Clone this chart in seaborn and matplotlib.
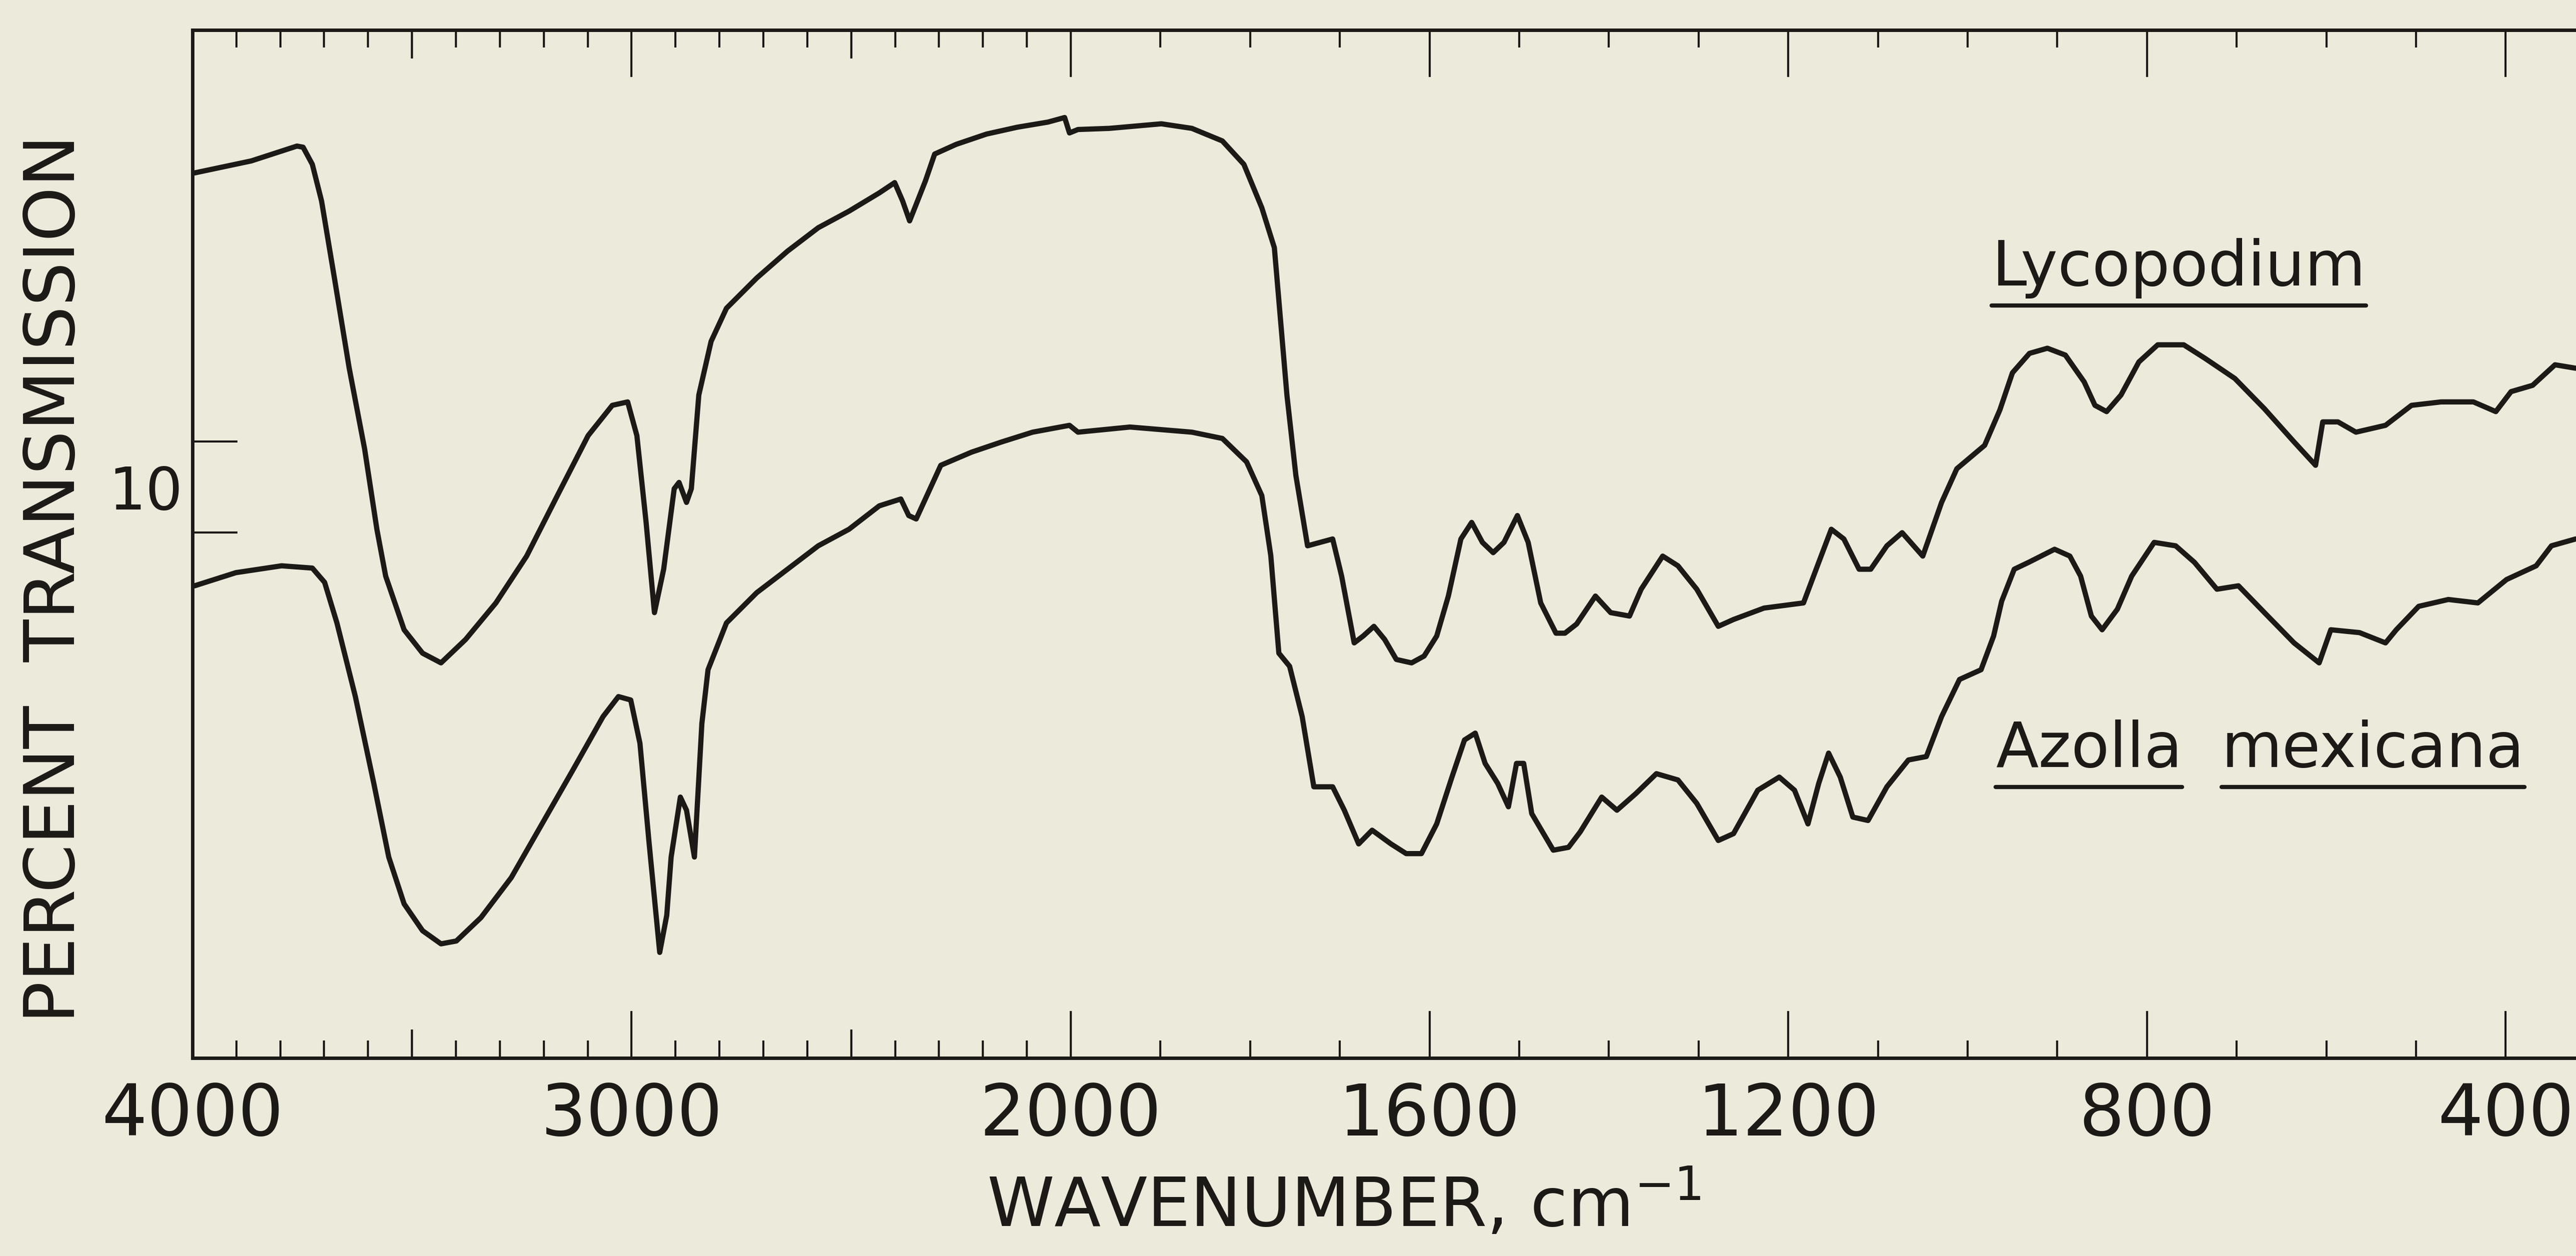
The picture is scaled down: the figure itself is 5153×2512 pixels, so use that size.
import numpy as np
import matplotlib
matplotlib.use("Agg")
import matplotlib.pyplot as plt
from matplotlib.lines import Line2D
import seaborn as sns

# wavenumber (cm-1) and percent transmission
lyco_wn = [3995, 3866, 3762, 3748, 3727, 3706, 3678, 3643, 3608, 3580, 3560, 3518, 3476,
           3434, 3378, 3309, 3239, 3169, 3099, 3044, 3009, 2988, 2967, 2948, 2927, 2903,
           2892, 2875, 2864, 2847, 2819, 2784, 2715, 2645, 2575, 2505, 2436, 2401, 2383,
           2367, 2352, 2331, 2310, 2261, 2192, 2122, 2052, 2014, 2003, 1992, 1957, 1899,
           1865, 1831, 1807, 1787, 1773, 1766, 1759, 1749, 1736, 1722, 1708, 1698, 1684,
           1674, 1662, 1650, 1637, 1620, 1606, 1592, 1579, 1565, 1553, 1541, 1529, 1517,
           1502, 1490, 1476, 1459, 1449, 1436, 1415, 1398, 1377, 1364, 1340, 1323, 1302,
           1278, 1261, 1227, 1183, 1166, 1152, 1138, 1121, 1108, 1090, 1073, 1050, 1029,
           1012, 981, 964, 950, 931, 911, 891, 870, 858, 845, 829, 809, 788, 759, 735, 702,
           669, 636, 612, 604, 587, 567, 534, 505, 472, 436, 411, 394, 370, 345, 322]
lyco_t = [15.50, 15.71, 15.97, 15.95, 15.65, 15.01, 13.72, 12.08, 10.67, 9.26, 8.44, 7.50, 7.09,
          6.92, 7.33, 7.97, 8.79, 9.85, 10.90, 11.43, 11.49, 10.90, 9.38, 7.80, 8.56, 9.97,
          10.08, 9.73, 9.97, 11.61, 12.55, 13.13, 13.66, 14.13, 14.54, 14.83, 15.15, 15.33, 15.01,
          14.66, 14.95, 15.36, 15.83, 16.00, 16.18, 16.30, 16.39, 16.47, 16.20, 16.26, 16.28, 16.36,
          16.28, 16.06, 15.65, 14.89, 14.19, 12.90, 11.61, 10.20, 8.97, 9.03, 9.09, 8.44, 7.27,
          7.39, 7.56, 7.33, 6.98, 6.92, 7.04, 7.39, 8.09, 9.09, 9.38, 9.03, 8.85, 9.03,
          9.50, 9.03, 7.97, 7.44, 7.44, 7.60, 8.09, 7.80, 7.74, 8.21, 8.79, 8.62, 8.21,
          7.56, 7.68, 7.88, 7.97, 8.68, 9.26, 9.09, 8.56, 8.56, 8.97, 9.20, 8.79, 9.73,
          10.32, 10.73, 11.35, 12.00, 12.34, 12.43, 12.31, 11.84, 11.43, 11.32, 11.61, 12.19, 12.49, 12.49, 12.25, 11.90,
          11.37, 10.79, 10.38, 11.14, 11.14, 10.96, 11.08, 11.43, 11.49, 11.49, 11.32, 11.67, 11.78, 12.14, 12.08]

azolla_wn = [3995, 3901, 3797, 3727, 3699, 3671, 3629, 3587, 3553, 3518, 3476, 3434, 3399,
             3343, 3274, 3204, 3134, 3065, 3030, 3002, 2981, 2960, 2936, 2920, 2910, 2889,
             2875, 2857, 2840, 2826, 2784, 2715, 2645, 2575, 2505, 2436, 2387, 2369, 2352,
             2324, 2296, 2226, 2157, 2087, 2003, 1992, 1934, 1865, 1831, 1804, 1787, 1777,
             1768, 1756, 1742, 1729, 1708, 1695, 1679, 1664, 1643, 1626, 1609, 1592, 1575,
             1561, 1549, 1538, 1524, 1512, 1503, 1495, 1486, 1462, 1445, 1432, 1408, 1391,
             1370, 1347, 1323, 1302, 1278, 1261, 1234, 1210, 1193, 1178, 1166, 1155, 1142,
             1128, 1111, 1090, 1066, 1046, 1029, 1009, 985, 971, 962, 948, 932, 903, 886,
             874, 862, 850, 833, 817, 792, 768, 747, 722, 698, 669, 636, 608, 595, 563,
             534, 522, 497, 464, 431, 399, 366, 349, 322]
azolla_t = [8.27, 8.50, 8.62, 8.58, 8.33, 7.62, 6.33, 4.81, 3.52, 2.70, 2.23, 2.00, 2.05,
            2.46, 3.16, 4.10, 5.04, 5.98, 6.33, 6.27, 5.51, 3.75, 1.85, 2.50, 3.52, 4.57,
            4.34, 3.52, 5.86, 6.80, 7.62, 8.15, 8.56, 8.97, 9.26, 9.67, 9.79, 9.50, 9.44,
            9.91, 10.38, 10.61, 10.79, 10.96, 11.08, 10.96, 11.05, 10.96, 10.85, 10.44, 9.85, 8.80,
            7.09, 6.86, 5.98, 4.75, 4.75, 4.34, 3.75, 3.99, 3.75, 3.58, 3.58, 4.10, 4.92,
            5.57, 5.69, 5.16, 4.81, 4.40, 5.16, 5.16, 4.28, 3.64, 3.69, 3.96, 4.57, 4.34,
            4.63, 4.98, 4.87, 4.46, 3.81, 3.93, 4.69, 4.92, 4.69, 4.10, 4.81, 5.34, 4.92,
            4.22, 4.16, 4.75, 5.22, 5.28, 5.98, 6.63, 6.80, 7.39, 8.00, 8.56, 8.68, 8.91, 8.79,
            8.44, 7.74, 7.50, 7.86, 8.44, 9.03, 8.97, 8.68, 8.21, 8.27, 7.80, 7.27, 6.92, 7.50, 7.45,
            7.27, 7.50, 7.91, 8.03, 7.97, 8.38, 8.62, 8.97, 9.09]

major_ticks = [4000, 3000, 2000, 1600, 1200, 800, 400]
major_labels = ["4000", "3000", "2000", "1600", "1200", "800", "400"]
medium_ticks = [3500, 2500]
minor_ticks = [w for w in range(3900, 2000, -100) if w != 3000] + \
              [w for w in range(1900, 400, -100) if w not in (1600, 1200, 800)]

ink = "#1b1a17"
paper = "#eceadb"

sns.set_style("ticks")
plt.rcParams["font.family"] = ["DejaVu Sans"]

# the chart paper doubles its scale below 2000 cm-1
EXPAND = 2.042


def forward(w):
    w = np.asarray(w, dtype=float)
    return np.where(w >= 2000, w, 2000 - (2000 - w) * EXPAND)


def inverse(u):
    u = np.asarray(u, dtype=float)
    return np.where(u >= 2000, u, 2000 - (2000 - u) / EXPAND)


fig, ax = plt.subplots(figsize=(51.53, 25.12), dpi=100)
fig.patch.set_facecolor(paper)
ax.set_facecolor(paper)
fig.subplots_adjust(left=0.0747, right=1.0, top=0.976, bottom=0.1576)

sns.lineplot(x=lyco_wn, y=lyco_t, ax=ax, color=ink, linewidth=7.5, sort=False, estimator=None)
sns.lineplot(x=azolla_wn, y=azolla_t, ax=ax, color=ink, linewidth=7.5, sort=False, estimator=None)

ax.set_xscale("function", functions=(forward, inverse))
ax.set_xlim(4000, 321.6)
ax.set_ylim(0, 18)

for side in ["left", "top", "bottom"]:
    ax.spines[side].set_linewidth(5)
    ax.spines[side].set_color(ink)
ax.spines["right"].set_visible(False)

ax.set_xticks(major_ticks, major_labels)
ax.set_xticks(medium_ticks + minor_ticks, minor=True)
ax.tick_params(axis="x", which="major", direction="in", length=68, width=3, top=True, bottom=True,
               labelsize=103, pad=33, colors=ink)
ax.tick_params(axis="x", which="minor", direction="in", length=25, width=3, top=True, bottom=True,
               colors=ink)

ax.set_yticks([9.2, 10.8], ["", ""])
ax.set_yticks([10], ["10"], minor=True)
ax.tick_params(axis="y", which="major", direction="in", length=65, width=3, left=True, right=False,
               colors=ink)
ax.tick_params(axis="y", which="minor", direction="in", length=0, left=True, right=False,
               labelsize=84, pad=14, colors=ink)

# medium-length ticks at 3500 and 2500
for tick, loc in zip(ax.xaxis.get_minor_ticks(), medium_ticks + minor_ticks):
    if loc in medium_ticks:
        tick.tick1line.set_markersize(41)
        tick.tick2line.set_markersize(41)

ax.set_xlabel("WAVENUMBER, cm$^{-1}$", fontsize=98, color=ink)
ax.xaxis.set_label_coords(0.4832, -0.109)
ax.set_ylabel("PERCENT  TRANSMISSION", fontsize=100, color=ink)
ax.yaxis.set_label_coords(-0.0434, 0.466)

# curve names, underlined as on the original chart
names = [("Lycopodium", 973, 13.53), ("Azolla", 969, 5.10), ("mexicana", 717, 5.10)]
texts = []
for word, wn, yv in names:
    t = ax.text(wn, yv, word, fontsize=90, color=ink, ha="left", va="baseline")
    texts.append((t, wn, yv))

fig.canvas.draw()
renderer = fig.canvas.get_renderer()
to_fig = fig.transFigure.inverted()
for t, wn, yv in texts:
    bb = t.get_window_extent(renderer)
    base = ax.transData.transform((wn, yv))[1]
    (x0, y0), (x1, _) = to_fig.transform([(bb.x0, base - 40), (bb.x1, base - 40)])
    fig.add_artist(Line2D([x0, x1], [y0, y0], transform=fig.transFigure, color=ink, linewidth=6))

fig.savefig("out.png", dpi=100, facecolor=paper)
